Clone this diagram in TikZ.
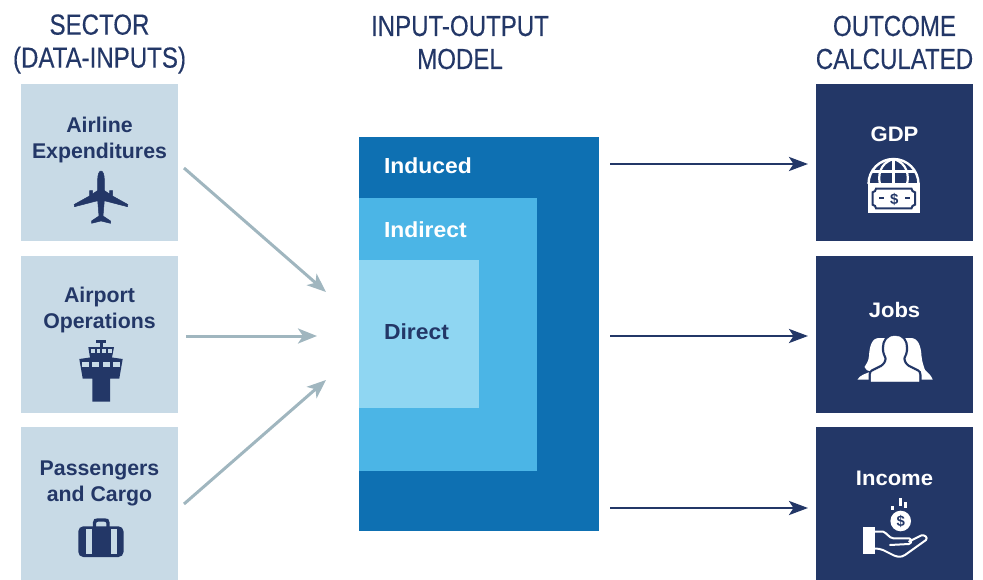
\documentclass[tikz,border=0pt]{standalone}
\usepackage{fontspec}
\setmainfont{Liberation Sans}
\newfontfamily\headfont[FakeStretch=0.83,FakeBold=0.25]{Liberation Sans}
\newfontfamily\widefont[FakeStretch=1.05,BoldFont={Liberation Sans Bold}]{Liberation Sans}
\usetikzlibrary{arrows.meta}
\definecolor{pale}{HTML}{C8DAE6}
\definecolor{navy}{HTML}{233767}
\definecolor{blueA}{HTML}{0E70B2}
\definecolor{blueB}{HTML}{4BB5E6}
\definecolor{blueC}{HTML}{8FD6F2}
\definecolor{greyarrow}{HTML}{A0B6BF}
\tikzset{
  every node/.style={inner sep=0pt,outer sep=0pt},
  inbox/.style={fill=pale,minimum width=157pt,minimum height=157pt,anchor=north west},
  outbox/.style={fill=navy,minimum width=157pt,minimum height=157pt,anchor=north west},
  heading/.style={font=\headfont\fontsize{29}{33}\selectfont,text=navy,align=center,anchor=center},
  inlabel/.style={font=\bfseries\fontsize{21.3}{26}\selectfont,text=navy,align=center,anchor=center},
  outlabel/.style={font=\widefont\bfseries\fontsize{21}{25}\selectfont,text=white,align=center,anchor=center},
  modellabel/.style={font=\widefont\bfseries\fontsize{21.8}{25}\selectfont,anchor=west},
  grayarrow/.style={draw=greyarrow,line width=3pt,-{Stealth[length=19pt,width=15pt,inset=5pt]}},
  navyarrow/.style={draw=navy,line width=2.7pt,-{Stealth[length=19pt,width=14pt,inset=4.5pt]}},
}
\begin{document}
\begin{tikzpicture}[x=1pt,y=-1pt]
\useasboundingbox (0,0) rectangle (983,580);
% headings
\node[heading] (h1) at (99.5,44) {SECTOR\\(DATA-INPUTS)};
\node[heading] (h2) at (460,42.5) {INPUT-OUTPUT\\MODEL};
\node[heading] (h3) at (894.5,42.5) {OUTCOME\\CALCULATED};
% sector boxes
\node[inbox] (air) at (21,84) {};
\node[inbox] (apt) at (21,256) {};
\node[inbox] (pax) at (21,427) {};
\node[inlabel] (airl) at (99.5,139.5) {Airline\\Expenditures};
\node[inlabel] (aptl) at (99.5,310) {Airport\\Operations};
\node[inlabel] (paxl) at (99.5,483.5) {Passengers\\and Cargo};
% outcome boxes
\node[outbox] (gdp) at (816,84) {};
\node[outbox] (jobs) at (816,256) {};
\node[outbox] (inc) at (816,427) {};
\node[outlabel] (gdpl) at (894.5,134) {GDP};
\node[outlabel] (jobsl) at (894.5,310) {Jobs};
\node[outlabel] (incl) at (894.5,478) {Income};
% model
\node[fill=blueA,minimum width=240pt,minimum height=394pt,anchor=north west] (induced) at (359,137) {};
\node[fill=blueB,minimum width=178pt,minimum height=273pt,anchor=north west] (indirect) at (359,198) {};
\node[fill=blueC,minimum width=120pt,minimum height=148pt,anchor=north west] (direct) at (359,260) {};
\node[modellabel,text=white] (indl) at (384,166) {Induced};
\node[modellabel,text=white] (indrl) at (384,230) {Indirect};
\node[modellabel,text=navy] (dirl) at (384,332) {Direct};
% connector ends
\coordinate (a1s) at (184,168);
\coordinate (a1e) at (326,292);
\coordinate (a2s) at (186,336);
\coordinate (a2e) at (317,336);
\coordinate (a3s) at (184,504);
\coordinate (a3e) at (326,380);
\coordinate (b1s) at (610,164);
\coordinate (b1e) at (808,164);
\coordinate (b2s) at (610,336);
\coordinate (b2e) at (808,336);
\coordinate (b3s) at (610,508);
\coordinate (b3e) at (808,508);
\draw[grayarrow] (a1s) -- (a1e);
\draw[grayarrow] (a2s) -- (a2e);
\draw[grayarrow] (a3s) -- (a3e);
\draw[navyarrow] (b1s) -- (b1e);
\draw[navyarrow] (b2s) -- (b2e);
\draw[navyarrow] (b3s) -- (b3e);
% airplane
\filldraw[navy,line width=.5pt,line join=round] (101,171) .. controls (103,171) and (104.3,175) .. (104.3,179)
  -- (104.3,190.5) -- (109.5,194) -- (109.5,190.7) -- (112.5,190.7) -- (112.5,196)
  -- (127.8,204.5) -- (127.5,206.7) -- (104.3,200.7) -- (103,216) -- (110.5,221) -- (110.5,223.3)
  -- (101,221) -- (91.5,223.3) -- (91.5,221) -- (99,216)
  -- (97.7,200.7) -- (74.5,206.7) -- (74.2,204.5) -- (89.5,196) -- (89.5,190.7) -- (92.5,190.7)
  -- (92.5,194) -- (97.7,190.5) -- (97.7,179) .. controls (97.7,175) and (99,171) .. (101,171) -- cycle;
% tower
\fill[navy] (95.7,340) rectangle (106.3,342.5);
\fill[navy] (99.5,342) rectangle (102.5,347.5);
\fill[navy] (88.3,347) -- (114,347) -- (112,357.5) -- (122.7,359) -- (119.3,378.5) -- (110,378.5)
  -- (110,401.7) -- (92.3,401.7) -- (92.3,378.5) -- (82.7,378.5) -- (79.3,359) -- (90,357.5) -- cycle;
\foreach \x in {90.7,96.5,102.3,108}{\fill[pale] (\x,349.4) rectangle ++(3.8,4);}
\foreach \x in {82.4,92.4,102.8,113.2}{\fill[pale] (\x,361.5) rectangle ++(6.7,5.2);}
% suitcase
\draw[navy,line width=3.4pt] (94.5,527) -- (94.5,523) .. controls (94.5,520.5) and (96,520) .. (98,520) -- (104.5,520) .. controls (106.5,520) and (108,520.5) .. (108,523) -- (108,527);
\fill[navy,rounded corners=5pt] (78.3,526.3) rectangle (123.5,557);
\fill[pale] (85.7,529) rectangle (91.7,553.5);
\fill[pale] (110.7,529) rectangle (116.7,553.5);
% globe + note
\draw[white,line width=2.4pt] (868.5,184) arc[start angle=180,end angle=360,radius=25];
\draw[white,line width=2.2pt] (893.5,159) -- (893.5,183);
\draw[white,line width=2.2pt] (893.5,159) .. controls (879,163) and (878,177) .. (880,184);
\draw[white,line width=2.2pt] (893.5,159) .. controls (908,163) and (909,177) .. (907,184);
\draw[white,line width=2.2pt] (872,171.5) -- (915,171.5);
\fill[white] (867.7,183) rectangle (920,213.3);
\draw[navy,line width=2pt] (876,188.7) -- (911.5,188.7) .. controls (911.5,190.5) and (913,192) .. (915,192.3)
  -- (915,204.7) .. controls (913,205) and (911.5,206.5) .. (911.5,208.3)
  -- (876,208.3) .. controls (876,206.5) and (874.5,205) .. (872.5,204.7)
  -- (872.5,192.3) .. controls (874.5,192) and (876,190.5) .. (876,188.7) -- cycle;
\node[font=\bfseries\fontsize{15}{15}\selectfont,text=navy] (dollar) at (894.3,199) {\$};
\fill[navy] (879,197.5) rectangle (884,199.5);
\fill[navy] (904.5,197.5) rectangle (909.5,199.5);
% people
\fill[white] (879,338) .. controls (872,338) and (869.5,346) .. (869,356) .. controls (868.5,362) and (866,364) .. (864.5,367) .. controls (865,370) and (868,371) .. (871,371.5)
  .. controls (865,374) and (860,375) .. (857.5,379.5) -- (900,379.5) -- (900,338) -- cycle;
\fill[white] (911,338) .. controls (918,338) and (921,346) .. (921.5,356) .. controls (922,362) and (924,367) .. (925,370)
  .. controls (928,373) and (931,375) .. (932.7,379.5) -- (890,379.5) -- (890,338) -- cycle;
\filldraw[white,preaction={draw=navy,line width=5pt}] (895.5,336) .. controls (902,336) and (905.7,341) .. (905.7,348) .. controls (905.7,352) and (904.5,355) .. (903,358) .. controls (903,362) and (905,365) .. (908,367)
  -- (917,371.5) .. controls (918.5,372.5) and (919,373) .. (919,375) -- (919,381.5) -- (871,381.5) -- (871,375) .. controls (871,373) and (871.5,372.5) .. (873,371.5)
  -- (882,367) .. controls (885,365) and (887,362) .. (887,358) .. controls (885.5,355) and (884.3,352) .. (884.3,348) .. controls (884.3,341) and (888,336) .. (895.5,336) -- cycle;
\fill[navy] (860,382) rectangle (930,386);
% income
\fill[white] (900.7,521) circle[radius=10.3];
\node[font=\bfseries\fontsize{15}{15}\selectfont,text=navy] (coin) at (900.7,521) {\$};
\fill[white] (891,506) rectangle (893.7,510);
\fill[white] (899.3,498.3) rectangle (902,505.7);
\fill[white] (904.3,502.3) rectangle (906.7,507.7);
\fill[white] (862.7,527.3) rectangle (875,554);
\draw[white,line width=2pt,line join=round,line cap=round] (875,531.7) -- (883.3,531.7) .. controls (887,533) and (889,538) .. (893.3,538.3) -- (909,538.3)
  .. controls (912,539) and (912,543) .. (909,544) -- (890,545);
\draw[white,line width=2pt,line join=round,line cap=round] (909,541.5) -- (921,535.5) .. controls (925,534.5) and (928,537.5) .. (926,540) -- (905,555) .. controls (901,557.5) and (898,557) .. (894,555.5) -- (883,550) .. controls (880,549) and (878,548.5) .. (875,548.5);
\end{tikzpicture}
\end{document}
